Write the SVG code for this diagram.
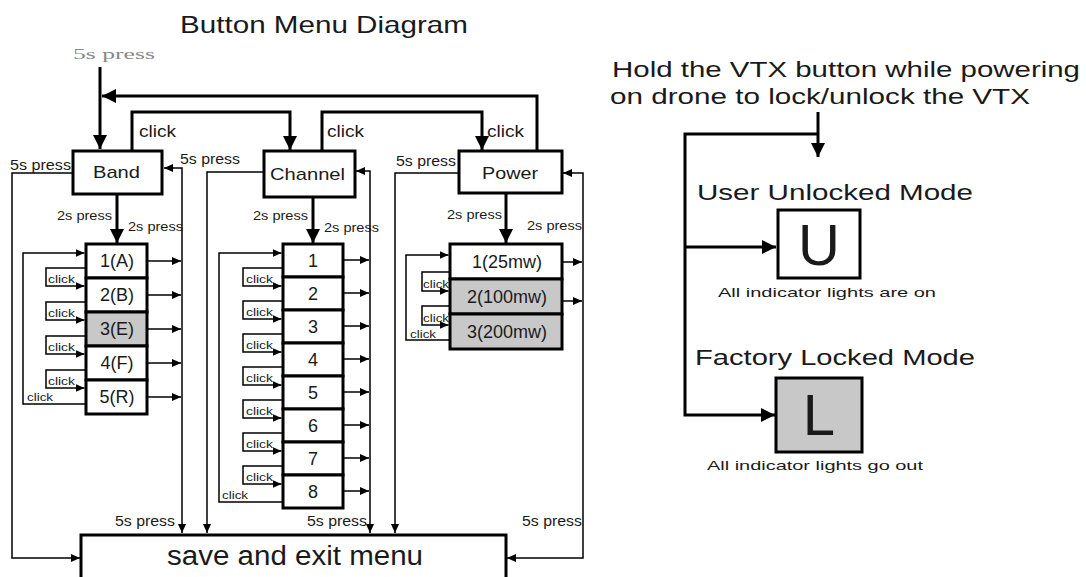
<svg xmlns="http://www.w3.org/2000/svg" width="1086" height="577" viewBox="0 0 1086 577">
<style>
text{font-family:"Liberation Sans",Arial,sans-serif;fill:#1a1a1a}
.box{fill:#fff;stroke:#000;stroke-width:3}
.gray{fill:#c8c8c8}
.thick{fill:none;stroke:#000;stroke-width:3}
.thin{fill:none;stroke:#000;stroke-width:1.5}
.lbl{font-size:14px}
.sm{font-size:11px}
.row{font-size:18px;text-anchor:middle}
.big{font-size:22px}
</style>
<defs>
<marker id="ab" markerUnits="userSpaceOnUse" markerWidth="16" markerHeight="16" refX="14" refY="7" orient="auto-start-reverse"><path d="M0,0 L14,7 L0,14 z" fill="#000"/></marker>
<marker id="as" markerUnits="userSpaceOnUse" markerWidth="10" markerHeight="10" refX="9" refY="4" orient="auto-start-reverse"><path d="M0,0 L9,4 L0,8 z" fill="#000"/></marker>
</defs>
<rect width="1086" height="577" fill="#fff"/>

<g id="title"><text x="180" y="33" style="font-size:24px" textLength="288" lengthAdjust="spacingAndGlyphs">Button Menu Diagram</text></g>
<g id="start-label"><text x="73" y="59" style="font-family:'Liberation Serif',serif;font-size:15px;fill:#888" textLength="82" lengthAdjust="spacingAndGlyphs">5s press</text></g>

<g id="connectors">
<path class="thick" d="M100,67 V149" marker-end="url(#ab)"/>
<path class="thick" d="M537,151 V96 H102" marker-end="url(#ab)"/>
<path class="thick" d="M132,151 V112 H290 V150" marker-end="url(#ab)"/>
<path class="thick" d="M322,151 V112 H482 V150" marker-end="url(#ab)"/>
<path class="thick" d="M117,195 V243" marker-end="url(#ab)"/>
<path class="thick" d="M313,198 V243" marker-end="url(#ab)"/>
<path class="thick" d="M506,193 V243" marker-end="url(#ab)"/>

<path class="thin" d="M73,173 H12 V558 H80" marker-end="url(#as)"/>
<path class="thin" d="M164,168 H182 V533" marker-start="url(#as)" marker-end="url(#as)"/>
<path class="thin" d="M264,172 H207 V533" marker-end="url(#as)"/>
<path class="thin" d="M356,171 H370 V533" marker-start="url(#as)" marker-end="url(#as)"/>
<path class="thin" d="M459,173 H395 V533" marker-end="url(#as)"/>
<path class="thin" d="M563,173 H583 V558 H507" marker-start="url(#as)" marker-end="url(#as)"/>

<path class="thin" d="M86,268 H46 V286 H84.5" marker-end="url(#as)"/>
<path class="thin" d="M86,302 H46 V320 H84.5" marker-end="url(#as)"/>
<path class="thin" d="M86,336 H46 V354 H84.5" marker-end="url(#as)"/>
<path class="thin" d="M86,370 H46 V388 H84.5" marker-end="url(#as)"/>
<path class="thin" d="M86,404 H23 V253 H84.5" marker-end="url(#as)"/>
<path class="thin" d="M147,261 H181" marker-end="url(#as)"/>
<path class="thin" d="M147,295 H181" marker-end="url(#as)"/>
<path class="thin" d="M147,329 H181" marker-end="url(#as)"/>
<path class="thin" d="M147,363 H181" marker-end="url(#as)"/>
<path class="thin" d="M147,397 H181" marker-end="url(#as)"/>

<path class="thin" d="M283,268 H243 V286 H281.5" marker-end="url(#as)"/>
<path class="thin" d="M283,301 H243 V319 H281.5" marker-end="url(#as)"/>
<path class="thin" d="M283,334 H243 V352 H281.5" marker-end="url(#as)"/>
<path class="thin" d="M283,367 H243 V385 H281.5" marker-end="url(#as)"/>
<path class="thin" d="M283,400 H243 V418 H281.5" marker-end="url(#as)"/>
<path class="thin" d="M283,433 H243 V451 H281.5" marker-end="url(#as)"/>
<path class="thin" d="M283,466 H243 V484 H281.5" marker-end="url(#as)"/>
<path class="thin" d="M283,502 H219 V253 H281.5" marker-end="url(#as)"/>
<path class="thin" d="M343,260 H369" marker-end="url(#as)"/>
<path class="thin" d="M343,293 H369" marker-end="url(#as)"/>
<path class="thin" d="M343,326 H369" marker-end="url(#as)"/>
<path class="thin" d="M343,359 H369" marker-end="url(#as)"/>
<path class="thin" d="M343,392 H369" marker-end="url(#as)"/>
<path class="thin" d="M343,425 H369" marker-end="url(#as)"/>
<path class="thin" d="M343,458 H369" marker-end="url(#as)"/>
<path class="thin" d="M343,491 H369" marker-end="url(#as)"/>

<path class="thin" d="M450,272 H422 V291 H448.5" marker-end="url(#as)"/>
<path class="thin" d="M450,306 H422 V325 H448.5" marker-end="url(#as)"/>
<path class="thin" d="M450,340 H406 V255 H448.5" marker-end="url(#as)"/>
<path class="thin" d="M562,262 H582" marker-end="url(#as)"/>
<path class="thin" d="M562,301 H582" marker-end="url(#as)"/>

<path class="thick" d="M818,112 V157" marker-end="url(#ab)"/>
<path class="thick" d="M818,134 H685 V415 H775" marker-end="url(#ab)"/>
<path class="thick" d="M685,247 H776" marker-end="url(#ab)"/>

<text x="139" y="137" style="font-size:16px" textLength="37" lengthAdjust="spacingAndGlyphs">click</text>
<text x="327" y="137" style="font-size:16px" textLength="37" lengthAdjust="spacingAndGlyphs">click</text>
<text x="487" y="137" style="font-size:16px" textLength="37" lengthAdjust="spacingAndGlyphs">click</text>
<text x="10" y="170" class="lbl" textLength="61" lengthAdjust="spacingAndGlyphs">5s press</text>
<text x="180" y="164" class="lbl" textLength="60" lengthAdjust="spacingAndGlyphs">5s press</text>
<text x="396" y="166" class="lbl" textLength="60" lengthAdjust="spacingAndGlyphs">5s press</text>
<text x="115" y="526" class="lbl" textLength="60" lengthAdjust="spacingAndGlyphs">5s press</text>
<text x="307" y="526" class="lbl" textLength="60" lengthAdjust="spacingAndGlyphs">5s press</text>
<text x="522" y="526" class="lbl" textLength="60" lengthAdjust="spacingAndGlyphs">5s press</text>
<text x="57" y="220" class="lbl" style="font-size:13px" textLength="55" lengthAdjust="spacingAndGlyphs">2s press</text>
<text x="128" y="231" class="lbl" style="font-size:13px" textLength="55" lengthAdjust="spacingAndGlyphs">2s press</text>
<text x="253" y="220" class="lbl" style="font-size:13px" textLength="55" lengthAdjust="spacingAndGlyphs">2s press</text>
<text x="324" y="232" class="lbl" style="font-size:13px" textLength="55" lengthAdjust="spacingAndGlyphs">2s press</text>
<text x="447" y="219" class="lbl" style="font-size:13px" textLength="55" lengthAdjust="spacingAndGlyphs">2s press</text>
<text x="527" y="230" class="lbl" style="font-size:13px" textLength="55" lengthAdjust="spacingAndGlyphs">2s press</text>

<text x="48" y="283" class="sm" textLength="27" lengthAdjust="spacingAndGlyphs">click</text>
<text x="48" y="317" class="sm" textLength="27" lengthAdjust="spacingAndGlyphs">click</text>
<text x="48" y="351" class="sm" textLength="27" lengthAdjust="spacingAndGlyphs">click</text>
<text x="48" y="385" class="sm" textLength="27" lengthAdjust="spacingAndGlyphs">click</text>
<text x="27" y="401" class="sm" textLength="26" lengthAdjust="spacingAndGlyphs">click</text>
<text x="246" y="283" class="sm" textLength="27" lengthAdjust="spacingAndGlyphs">click</text>
<text x="246" y="316" class="sm" textLength="27" lengthAdjust="spacingAndGlyphs">click</text>
<text x="246" y="349" class="sm" textLength="27" lengthAdjust="spacingAndGlyphs">click</text>
<text x="246" y="382" class="sm" textLength="27" lengthAdjust="spacingAndGlyphs">click</text>
<text x="246" y="415" class="sm" textLength="27" lengthAdjust="spacingAndGlyphs">click</text>
<text x="246" y="448" class="sm" textLength="27" lengthAdjust="spacingAndGlyphs">click</text>
<text x="246" y="481" class="sm" textLength="27" lengthAdjust="spacingAndGlyphs">click</text>
<text x="222" y="499" class="sm" textLength="26" lengthAdjust="spacingAndGlyphs">click</text>
<text x="423" y="288" class="sm" textLength="26" lengthAdjust="spacingAndGlyphs">click</text>
<text x="423" y="322" class="sm" textLength="26" lengthAdjust="spacingAndGlyphs">click</text>
<text x="410" y="338" class="sm" textLength="26" lengthAdjust="spacingAndGlyphs">click</text>
</g>

<g id="band"><rect class="box" x="73" y="151" width="89" height="43"/><text x="93" y="178" style="font-size:17px" textLength="47" lengthAdjust="spacingAndGlyphs">Band</text></g>
<g id="channel"><rect class="box" x="264" y="151" width="91" height="46"/><text x="270" y="180" style="font-size:17px" textLength="75" lengthAdjust="spacingAndGlyphs">Channel</text></g>
<g id="power"><rect class="box" x="459" y="151" width="103" height="42"/><text x="482" y="179" style="font-size:17px" textLength="56" lengthAdjust="spacingAndGlyphs">Power</text></g>

<g id="band-list">
<rect class="box" x="86" y="244" width="61" height="34"/>
<rect class="box" x="86" y="278" width="61" height="34"/>
<rect class="box gray" x="86" y="312" width="61" height="34"/>
<rect class="box" x="86" y="346" width="61" height="34"/>
<rect class="box" x="86" y="380" width="61" height="34"/>
<text x="117" y="267" class="row">1(A)</text>
<text x="117" y="301" class="row">2(B)</text>
<text x="117" y="335" class="row">3(E)</text>
<text x="117" y="369" class="row">4(F)</text>
<text x="117" y="403" class="row">5(R)</text>
</g>

<g id="channel-list">
<rect class="box" x="283" y="244" width="60" height="33"/>
<rect class="box" x="283" y="277" width="60" height="33"/>
<rect class="box" x="283" y="310" width="60" height="33"/>
<rect class="box" x="283" y="343" width="60" height="33"/>
<rect class="box" x="283" y="376" width="60" height="33"/>
<rect class="box" x="283" y="409" width="60" height="33"/>
<rect class="box" x="283" y="442" width="60" height="33"/>
<rect class="box" x="283" y="475" width="60" height="33"/>
<text x="313" y="267" class="row">1</text>
<text x="313" y="300" class="row">2</text>
<text x="313" y="333" class="row">3</text>
<text x="313" y="366" class="row">4</text>
<text x="313" y="399" class="row">5</text>
<text x="313" y="432" class="row">6</text>
<text x="313" y="465" class="row">7</text>
<text x="313" y="498" class="row">8</text>
</g>

<g id="power-list">
<rect class="box" x="450" y="244" width="112" height="35"/>
<rect class="box gray" x="450" y="279" width="112" height="35"/>
<rect class="box gray" x="450" y="314" width="112" height="35"/>
<text x="507" y="268" class="row">1(25mw)</text>
<text x="507" y="303" class="row">2(100mw)</text>
<text x="507" y="338" class="row">3(200mw)</text>
</g>

<g id="save-exit"><rect class="box" x="81" y="535" width="425" height="60"/><text x="167" y="565" style="font-size:27px" textLength="256" lengthAdjust="spacingAndGlyphs">save and exit menu</text></g>

<g id="vtx-note">
<text x="612" y="77" class="big" textLength="468" lengthAdjust="spacingAndGlyphs">Hold the VTX button while powering</text>
<text x="610" y="104" class="big" textLength="420" lengthAdjust="spacingAndGlyphs">on drone to lock/unlock the VTX</text>
</g>

<g id="unlocked">
<text x="697" y="200" class="big" textLength="276" lengthAdjust="spacingAndGlyphs">User Unlocked Mode</text>
<rect class="box" x="778" y="210" width="82" height="68"/>
<text x="819" y="265" style="font-size:58px;text-anchor:middle">U</text>
<text x="718" y="297" style="font-size:13px" textLength="218" lengthAdjust="spacingAndGlyphs">All indicator lights are on</text>
</g>

<g id="locked">
<text x="695" y="365" class="big" textLength="280" lengthAdjust="spacingAndGlyphs">Factory Locked Mode</text>
<rect class="box gray" x="776" y="378" width="86" height="74"/>
<text x="819" y="435" style="font-size:58px;text-anchor:middle">L</text>
<text x="707" y="470" style="font-size:13px" textLength="216" lengthAdjust="spacingAndGlyphs">All indicator lights go out</text>
</g>
</svg>
